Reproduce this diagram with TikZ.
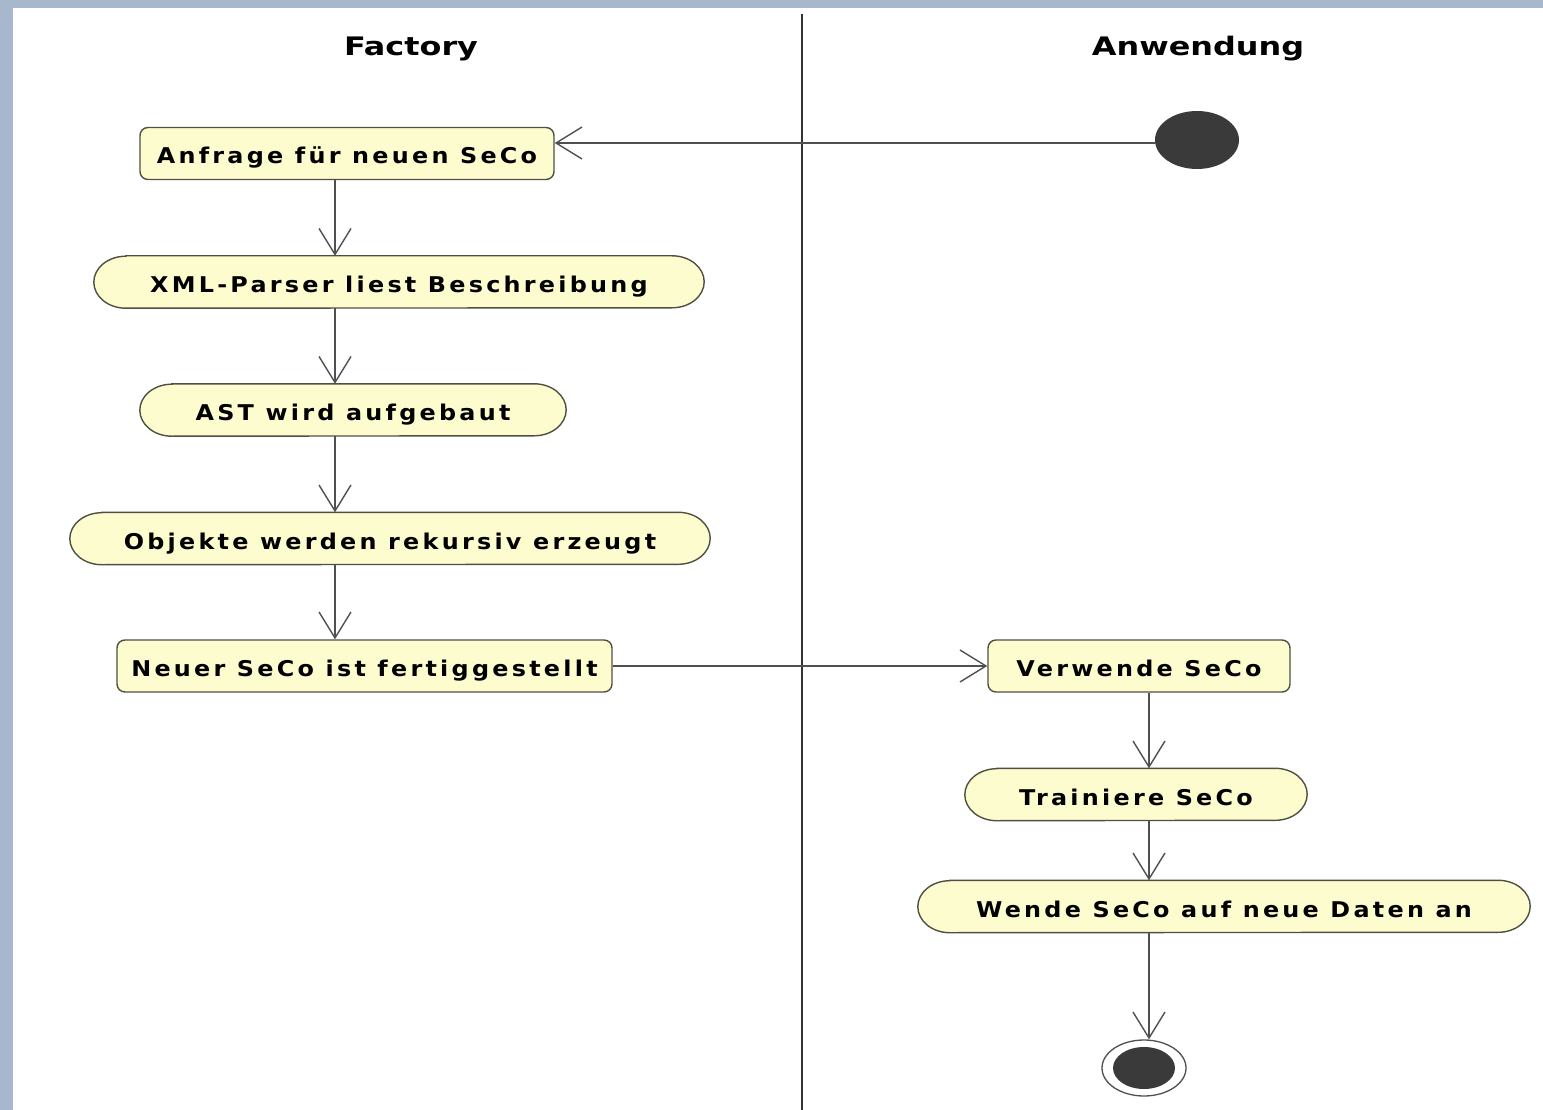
\documentclass[tikz,border=0pt]{standalone}
\usepackage{fontspec}
\newfontfamily\umlfont{DejaVu Sans}[FakeStretch=1.1,LetterSpace=15]
\newfontfamily\titlefont{DejaVu Sans}[FakeStretch=1.25]
\usetikzlibrary{arrows.meta,shapes.geometric}
\definecolor{bgblue}{RGB}{168,184,204}
\definecolor{nodefill}{RGB}{253,252,206}
\definecolor{nodedraw}{RGB}{80,80,66}
\definecolor{linegray}{RGB}{80,80,80}
\definecolor{dotgray}{RGB}{58,58,58}
\pgfdeclarelayer{bglayer}
\pgfdeclarelayer{shapelayer}
\pgfsetlayers{bglayer,shapelayer,main}
\tikzset{
  action/.style={minimum height=52pt, inner sep=0pt, text=black,
    text height=21pt, text depth=0pt,
    font=\umlfont\bfseries\fontsize{21.7}{26}\selectfont},
  rectact/.style={action, rectangle, draw=nodedraw, fill=nodefill, line width=1.4pt, rounded corners=8pt},
  stadium/.style={action, rectangle},
  stadline/.style={draw=nodedraw, fill=nodefill, line width=1.4pt},
  flow/.style={draw=linegray, line width=1.4pt, -{Straight Barb[length=26pt,width=32pt]}},
  lane/.style={draw=black!80, line width=1.6pt},
  lanetitle/.style={font=\titlefont\bfseries\fontsize{25.5}{30}\selectfont, text=black, inner sep=0pt},
}
\newcommand\stadoutline[1]{%
  \path[stadline] ([xshift=32pt]#1.north west) -- ([xshift=-32pt]#1.north east)
    arc[start angle=90, end angle=-90, x radius=32pt, y radius=26pt]
    -- ([xshift=32pt]#1.south west)
    arc[start angle=270, end angle=90, x radius=32pt, y radius=26pt] -- cycle;}
\begin{document}
\begin{tikzpicture}[x=1pt,y=-1pt]
\useasboundingbox (0,0) rectangle (1543,1110);
\begin{pgfonlayer}{bglayer}
\fill[bgblue] (0,0) rectangle (1543,1110);
\fill[white] (13,8) rectangle (1543,1110);
\end{pgfonlayer}

% swimlane
\coordinate (lt) at (802,14);
\coordinate (lb) at (802,1110);
\draw[lane] (lt) -- (lb);
\node[lanetitle] (tf) at (411,48.5) {Factory};
\node[lanetitle] (ta) at (1198,48.5) {Anwendung};

% nodes
\node[ellipse, fill=dotgray, minimum width=84pt, minimum height=58pt, inner sep=0pt] (start) at (1197,140) {};
\node[rectact, minimum width=414pt] (n1) at (347,153.5) {Anfrage für neuen SeCo};
\node[stadium, minimum width=610pt] (n2) at (399,282) {XML-Parser liest Beschreibung};
\node[stadium, minimum width=426pt] (n3) at (353,410) {AST wird aufgebaut};
\node[stadium, minimum width=640pt] (n4) at (390,538.5) {Objekte werden rekursiv erzeugt};
\node[rectact, minimum width=495pt] (n5) at (364.5,666) {Neuer SeCo ist fertiggestellt};
\node[rectact, minimum width=302pt] (n6) at (1139,666) {Verwende SeCo};
\node[stadium, minimum width=342pt] (n7) at (1136,794.5) {Trainiere SeCo};
\node[stadium, minimum width=612pt] (n8) at (1224,906.5) {Wende SeCo auf neue Daten an};
\node[ellipse, draw=linegray, line width=1.3pt, fill=white, minimum width=84pt, minimum height=56pt, inner sep=0pt] (end) at (1144,1068) {};
\node[ellipse, fill=dotgray, minimum width=62pt, minimum height=42pt, inner sep=0pt] (endin) at (end.center) {};

\begin{pgfonlayer}{shapelayer}
\stadoutline{n2}
\stadoutline{n3}
\stadoutline{n4}
\stadoutline{n7}
\stadoutline{n8}
\end{pgfonlayer}

% connectors
\coordinate (xl) at (335,0);
\coordinate (xr) at (1149,0);
\coordinate (ya) at (0,143);
\draw[flow] (start.west |- ya) -- (n1.east |- ya);
\draw[flow] (n1.south -| xl) -- (n2.north -| xl);
\draw[flow] (n2.south -| xl) -- (n3.north -| xl);
\draw[flow] (n3.south -| xl) -- (n4.north -| xl);
\draw[flow] (n4.south -| xl) -- (n5.north -| xl);
\draw[flow] (n5.east) -- (n6.west);
\draw[flow] (n6.south -| xr) -- (n7.north -| xr);
\draw[flow] (n7.south -| xr) -- (n8.north -| xr);
\draw[flow] (n8.south -| xr) -- (end.north -| xr);
\end{tikzpicture}
\end{document}
